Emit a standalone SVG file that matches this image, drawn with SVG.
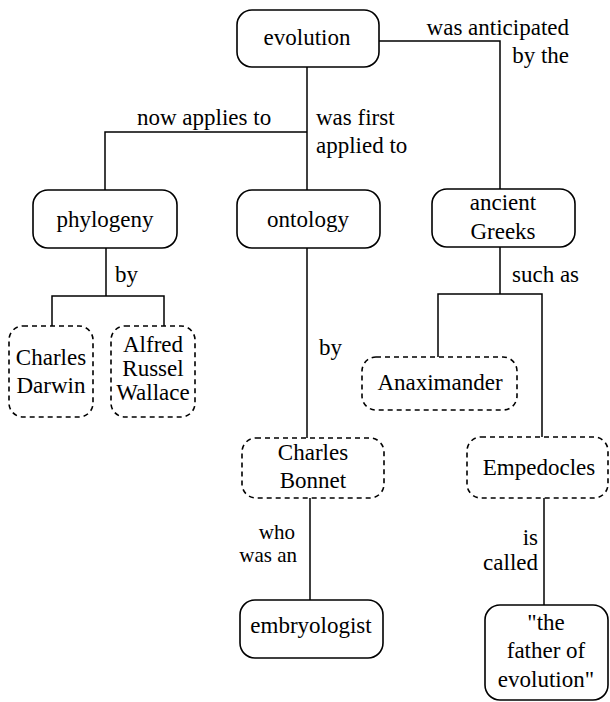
<svg xmlns="http://www.w3.org/2000/svg" width="610" height="702" viewBox="0 0 610 702" font-family="'Liberation Serif', 'DejaVu Serif', 'Noto Serif', serif">
  <style>
    text { font-family: 'Liberation Serif', 'DejaVu Serif', 'Noto Serif', serif; font-size: 23px; fill: #000; }
    .mid { text-anchor: middle; }
    .end { text-anchor: end; }
    .tight { font-size: 21px; }
    .node { fill: #fff; stroke: #000; stroke-width: 1.6; }
    .example { fill: #fff; stroke: #000; stroke-width: 1.6; stroke-dasharray: 5 4; }
    .link { fill: none; stroke: #000; stroke-width: 1.5; }
  </style>
  <rect width="610" height="702" fill="#fff"/>

  <!-- connectors and their linking phrases -->
  <g id="connectors">
    <path class="link" d="M379 41 H500 V189"/>
    <path class="link" d="M307 67 V190"/>
    <path class="link" d="M307 132 H105 V190"/>
    <path class="link" d="M106 248 V296"/>
    <path class="link" d="M52 326 V296 H164 V326"/>
    <path class="link" d="M307 248 V438"/>
    <path class="link" d="M500 247 V294"/>
    <path class="link" d="M438 357 V294 H542 V450"/>
    <path class="link" d="M310 498 V600"/>
    <path class="link" d="M544 498 V605"/>

    <text class="end" x="569" y="35">was anticipated</text>
    <text class="end" x="569" y="63">by the</text>
    <text x="137" y="125">now applies to</text>
    <text x="316" y="125">was first</text>
    <text x="316" y="153">applied to</text>
    <text x="115" y="282">by</text>
    <text x="319" y="355">by</text>
    <text x="512" y="282">such as</text>
    <text class="end tight" x="295" y="539">who</text>
    <text class="end tight" x="297" y="562">was an</text>
    <text class="end" x="538" y="545">is</text>
    <text class="end" x="538" y="570">called</text>
  </g>

  <!-- concepts -->
  <g id="evolution">
    <rect class="node" x="237" y="10" width="142" height="57" rx="15"/>
    <text class="mid" x="307" y="45">evolution</text>
  </g>
  <g id="phylogeny">
    <rect class="node" x="33" y="190" width="144" height="58" rx="15"/>
    <text class="mid" x="105" y="227">phylogeny</text>
  </g>
  <g id="ontology">
    <rect class="node" x="237" y="190" width="143" height="58" rx="15"/>
    <text class="mid" x="308" y="227">ontology</text>
  </g>
  <g id="ancient-greeks">
    <rect class="node" x="432" y="189" width="143" height="58" rx="15"/>
    <text class="mid" x="503" y="210">ancient</text>
    <text class="mid" x="503" y="239">Greeks</text>
  </g>
  <g id="embryologist">
    <rect class="node" x="240" y="600" width="143" height="58" rx="15"/>
    <text class="mid" x="311" y="633">embryologist</text>
  </g>
  <g id="father-of-evolution">
    <rect class="node" x="485" y="605" width="123" height="95" rx="15"/>
    <text class="mid" x="546" y="630">"the</text>
    <text class="mid" x="546" y="658">father of</text>
    <text class="mid" x="546" y="687">evolution"</text>
  </g>

  <!-- examples (people) -->
  <g id="charles-darwin">
    <rect class="example" x="9" y="326" width="84" height="91" rx="14"/>
    <text class="mid" x="51" y="365">Charles</text>
    <text class="mid" x="51" y="393">Darwin</text>
  </g>
  <g id="alfred-russel-wallace">
    <rect class="example" x="111" y="326" width="84" height="91" rx="14"/>
    <text class="mid" x="153" y="352">Alfred</text>
    <text class="mid" x="153" y="376">Russel</text>
    <text class="mid" x="153" y="400">Wallace</text>
  </g>
  <g id="anaximander">
    <rect class="example" x="362" y="357" width="155" height="53" rx="14"/>
    <text class="mid" x="440" y="390">Anaximander</text>
  </g>
  <g id="charles-bonnet">
    <rect class="example" x="242" y="438" width="142" height="60" rx="14"/>
    <text class="mid" x="313" y="460">Charles</text>
    <text class="mid" x="313" y="488">Bonnet</text>
  </g>
  <g id="empedocles">
    <rect class="example" x="467" y="437" width="141" height="61" rx="14"/>
    <text class="mid" x="539" y="475">Empedocles</text>
  </g>
</svg>
